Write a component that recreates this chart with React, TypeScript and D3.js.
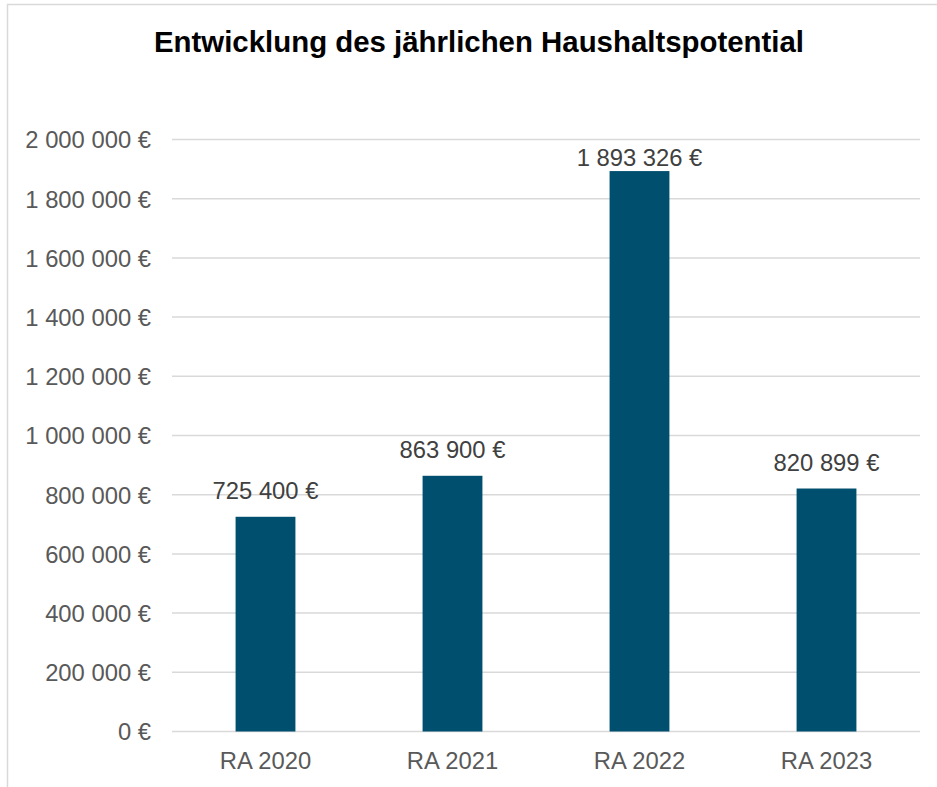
import React, { useRef, useEffect } from 'react';
import * as d3 from 'd3';

// Daten
const categories = ['RA 2020', 'RA 2021', 'RA 2022', 'RA 2023'];
const values = [725400, 863900, 1893326, 820899];
const yTicks = [0, 200000, 400000, 600000, 800000, 1000000, 1200000, 1400000, 1600000, 1800000, 2000000];
const title = 'Entwicklung des jährlichen Haushaltspotential';

const W = 937;
const H = 787;

// "1 893 326 €"
const fmtEuro = (v: number) => d3.format(',')(v).replace(/,/g, ' ') + ' €';

const App = () => {
    const svgRef = useRef<SVGSVGElement>(null);

    useEffect(() => {
        const svg = d3.select(svgRef.current);
        svg.selectAll('*').remove();

        const font = '"Liberation Sans", Arial, sans-serif';

        // Rahmen (rechts/unten außerhalb des Bildes)
        svg.append('rect')
            .attr('x', 7.5).attr('y', 4.5)
            .attr('width', W + 20).attr('height', H + 20)
            .attr('fill', '#ffffff')
            .attr('stroke', '#d9d9d9')
            .attr('stroke-width', 1.5);

        svg.append('text')
            .attr('x', 479).attr('y', 52)
            .attr('text-anchor', 'middle')
            .style('font-family', font)
            .style('font-weight', 'bold')
            .style('font-size', '29.4px')
            .attr('fill', '#000000')
            .text(title);

        const xScale = d3.scaleBand()
            .domain(categories)
            .range([172, 920])
            .paddingInner(0.68)
            .paddingOuter(0.34);

        const yScale = d3.scaleLinear()
            .domain([0, 2000000])
            .range([731.5, 139.5]);

        // Gitterlinien
        svg.append('g')
            .selectAll('line')
            .data(yTicks)
            .enter()
            .append('line')
            .attr('x1', 172).attr('x2', 920)
            .attr('y1', d => yScale(d)).attr('y2', d => yScale(d))
            .attr('stroke', '#d9d9d9')
            .attr('stroke-width', 1.5);

        // Y-Achse
        const yAxis = d3.axisLeft(yScale).tickValues(yTicks).tickSize(0).tickPadding(0).tickFormat(d => fmtEuro(+d));
        const yg = svg.append('g').attr('transform', 'translate(151,0)').call(yAxis);
        yg.select('.domain').remove();
        yg.selectAll('text')
            .attr('dy', '0.35em')
            .style('font-family', font)
            .style('font-size', '23.8px')
            .attr('fill', '#595959');

        // X-Achse
        const xAxis = d3.axisBottom(xScale).tickSize(0).tickPadding(0);
        const xg = svg.append('g').attr('transform', 'translate(0,768.5)').call(xAxis);
        xg.select('.domain').remove();
        xg.selectAll('text')
            .attr('dy', 0)
            .style('font-family', font)
            .style('font-size', '23.8px')
            .attr('fill', '#595959');

        // Balken
        svg.selectAll('.bar')
            .data(values)
            .enter()
            .append('rect')
            .attr('class', 'bar')
            .attr('x', (d, i) => xScale(categories[i]) as number)
            .attr('y', d => yScale(d))
            .attr('width', xScale.bandwidth())
            .attr('height', d => yScale(0) - yScale(d))
            .attr('fill', '#004f6e');

        // Datenbeschriftungen (innerhalb der Zeichenfläche begrenzt)
        const labelTop = yScale(2000000) + 26.5;
        svg.selectAll('.lbl')
            .data(values)
            .enter()
            .append('text')
            .attr('class', 'lbl')
            .attr('x', (d, i) => (xScale(categories[i]) as number) + xScale.bandwidth() / 2)
            .attr('y', d => Math.max(yScale(d) - 17.5, labelTop))
            .attr('text-anchor', 'middle')
            .style('font-family', font)
            .style('font-size', '23.8px')
            .attr('fill', '#404040')
            .text(d => fmtEuro(d));
    }, []);

    return (
        <svg
            ref={svgRef}
            width={W}
            height={H}
            style={{ position: 'absolute', left: 0, top: 0, display: 'block' }}
        />
    );
};

export default App;
